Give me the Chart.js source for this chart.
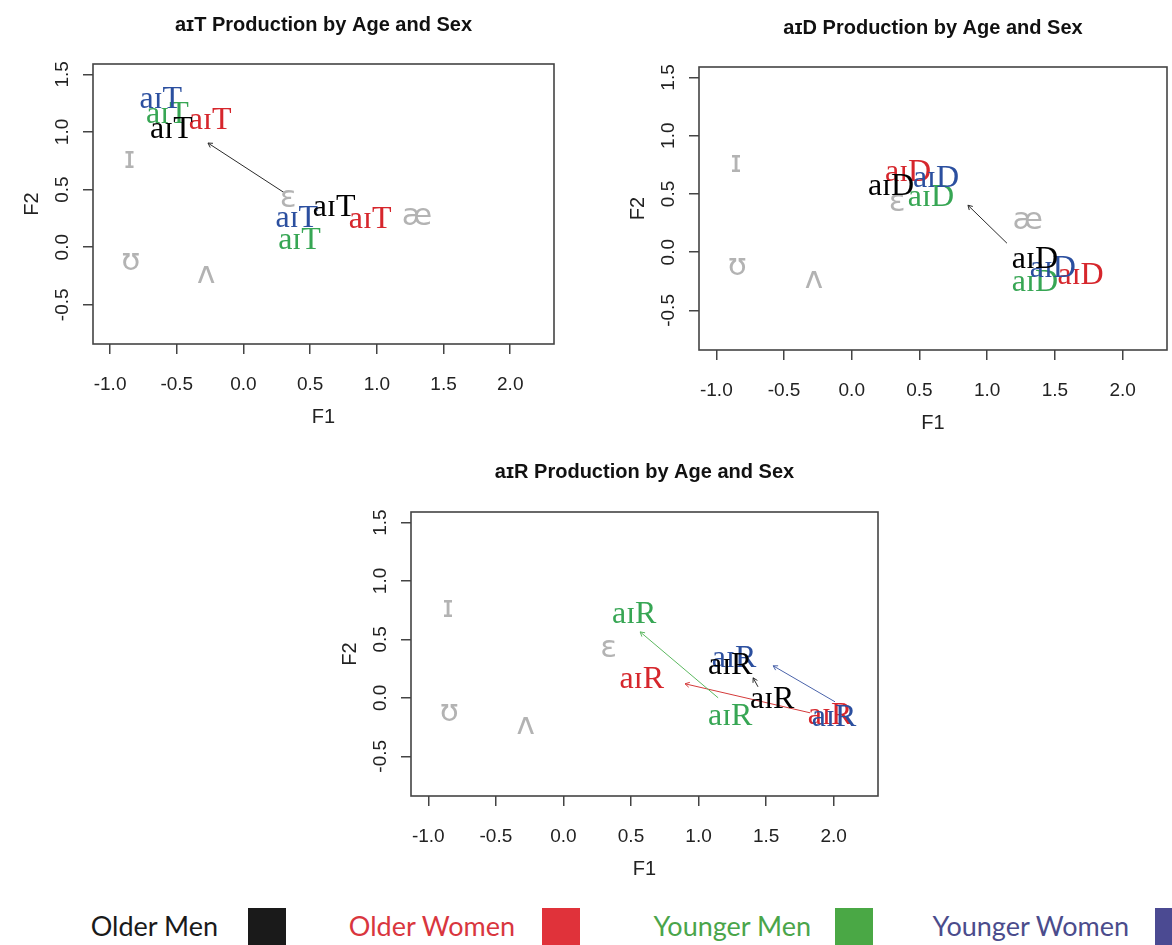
<!DOCTYPE html>
<html>
<head>
<meta charset="utf-8">
<script src="https://cdn.jsdelivr.net/npm/chart.js@4.4.1/dist/chart.umd.min.js"></script>
<style>
html,body{margin:0;padding:0;background:#fff;}
body{width:1172px;height:945px;overflow:hidden;position:relative;}
canvas{position:absolute;}
.lg{position:absolute;top:906px;height:40px;line-height:40px;font-family:Lato,"Open Sans",sans-serif;font-size:27px;white-space:nowrap;text-align:right;width:260px;}
.sq{position:absolute;top:908px;width:38px;height:40px;}
</style>
</head>
<body>
<canvas id="c1" width="600" height="440" style="left:0px;top:0px"></canvas>
<canvas id="c2" width="566" height="440" style="left:606px;top:0px"></canvas>
<canvas id="c3" width="600" height="460" style="left:318px;top:440px"></canvas>
<div id="legend"></div>
<script>
// ---------- shared data ----------
const groupNames = ['Older Men', 'Older Women', 'Younger Men', 'Younger Women'];
const groupColors = ['#000000', '#d6262c', '#37a654', '#2b4f9f'];
const arrowColors = ['#2a2a2a', '#d43a3a', '#5cb860', '#4a63aa'];
const legendTextColors = ['#1a1a1a', '#d9363e', '#4aa54a', '#4b4c8c'];
const legendBoxColors = ['#1a1a1a', '#e0323a', '#4aa845', '#4b4a92'];
const legendTextRight = [218, 515, 811, 1129];
const legendBoxLeft = [248, 542, 835, 1155];

const xTickValues = [-1.0, -0.5, 0.0, 0.5, 1.0, 1.5, 2.0];
const yTickValues = [-0.5, 0.0, 0.5, 1.0, 1.5];
const xRange = [-1.128, 2.328];
const yRange = [-0.84, 1.59];

const vowelSymbols = ['ɪ', 'ʊ', 'ʌ', 'ɛ', 'æ'];
const vowelF1 = [-0.855, -0.845, -0.28, 0.335, 1.30];
const vowelF2 = [0.76, -0.13, -0.24, 0.42, 0.265];

// ---------- aɪT panel ----------
const aiT_group = [0, 0, 1, 1, 2, 2, 3, 3];
const aiT_F1 = [-0.54, 0.68, -0.25, 0.95, -0.57, 0.42, -0.62, 0.40];
const aiT_F2 = [1.02, 0.34, 1.095, 0.24, 1.15, 0.06, 1.28, 0.25];
const aiT_arrowGroup = [0];
const aiT_arrowF1From = [0.31];
const aiT_arrowF2From = [0.47];
const aiT_arrowF1To = [-0.266];
const aiT_arrowF2To = [0.904];

// ---------- aɪD panel ----------
const aiD_group = [0, 0, 1, 1, 2, 2, 3, 3];
const aiD_F1 = [0.29, 1.353, 0.416, 1.69, 0.585, 1.353, 0.622, 1.485];
const aiD_F2 = [0.566, -0.06, 0.686, -0.197, 0.47, -0.257, 0.635, -0.137];
const aiD_arrowGroup = [0];
const aiD_arrowF1From = [1.146];
const aiD_arrowF2From = [0.077];
const aiD_arrowF1To = [0.858];
const aiD_arrowF2To = [0.403];

// ---------- aɪR panel ----------
const aiR_group = [0, 0, 1, 1, 2, 2, 3, 3];
const aiR_F1 = [1.234, 1.545, 0.58, 1.973, 0.524, 1.234, 1.263, 2.003];
const aiR_F2 = [0.28, -0.017, 0.154, -0.154, 0.71, -0.16, 0.333, -0.165];
const aiR_arrowGroup = [2, 1, 0, 3];
const aiR_arrowF1From = [1.145, 1.825, 1.44, 2.01];
const aiR_arrowF2From = [0.0, -0.128, 0.094, -0.034];
const aiR_arrowF1To = [0.568, 0.90, 1.404, 1.552];
const aiR_arrowF2To = [0.564, 0.12, 0.171, 0.274];

// order in which group labels are painted (last on top)
const paintOrder = [1, 2, 3, 0];

const SANS = '"Liberation Sans", Arial, "DejaVu Sans", sans-serif';
const SERIF = '"Liberation Serif", "Times New Roman", "DejaVu Serif", serif';
const VOWELFONT = '"DejaVu Sans", "Liberation Sans", sans-serif';

const panelDecor = {
  id: 'panelDecor',
  afterDatasetsDraw(chart) {
    const ctx = chart.ctx;
    chart.data.datasets.forEach((ds, i) => {
      if (!ds.isArrow) return;
      const meta = chart.getDatasetMeta(i);
      const a = meta.data[0], b = meta.data[1];
      const ang = Math.atan2(b.y - a.y, b.x - a.x);
      const L = 5, w = Math.PI / 6;
      ctx.save();
      ctx.strokeStyle = ds.borderColor;
      ctx.lineWidth = 1;
      ctx.beginPath();
      ctx.moveTo(b.x - L * Math.cos(ang - w), b.y - L * Math.sin(ang - w));
      ctx.lineTo(b.x, b.y);
      ctx.lineTo(b.x - L * Math.cos(ang + w), b.y - L * Math.sin(ang + w));
      ctx.stroke();
      ctx.restore();
    });
    chart.data.datasets.forEach((ds, i) => {
      if (!ds.textLabels) return;
      const meta = chart.getDatasetMeta(i);
      ctx.save();
      ctx.font = ds.textFont;
      ctx.fillStyle = ds.textColor;
      ctx.textAlign = 'center';
      ctx.textBaseline = 'middle';
      meta.data.forEach((el, j) => ctx.fillText(ds.textLabels[j], el.x, el.y));
      ctx.restore();
    });
  },
  afterDraw(chart) {
    const ctx = chart.ctx, ca = chart.chartArea;
    ctx.save();
    ctx.strokeStyle = '#444';
    ctx.lineWidth = 1.6;
    ctx.strokeRect(ca.left, ca.top, ca.right - ca.left, ca.bottom - ca.top);
    const ys = chart.scales.y;
    ctx.font = '19px ' + SANS;
    ctx.fillStyle = '#222';
    ctx.textAlign = 'center';
    ctx.textBaseline = 'middle';
    ys.ticks.forEach(t => {
      const py = ys.getPixelForValue(t.value);
      ctx.save();
      ctx.translate(ca.left - 30, py);
      ctx.rotate(-Math.PI / 2);
      ctx.fillText(Number(t.value).toFixed(1), 0, 0);
      ctx.restore();
    });
    ctx.restore();
  }
};

function makePanel(id, cfg) {
  const datasets = [];
  // gray reference vowels
  datasets.push({
    data: cfg.vowelIdx.map(k => ({x: vowelF1[k], y: vowelF2[k]})),
    pointRadius: 0,
    textLabels: cfg.vowelIdx.map(k => vowelSymbols[k]),
    textFont: '31px ' + VOWELFONT,
    textColor: '#b3b3b3'
  });
  // arrows
  cfg.arrowGroup.forEach((g, k) => {
    datasets.push({
      type: 'scatter',
      showLine: true,
      isArrow: true,
      data: [{x: cfg.a1x[k], y: cfg.a1y[k]}, {x: cfg.a2x[k], y: cfg.a2y[k]}],
      borderColor: cfg.arrowMono ? arrowColors[0] : arrowColors[g],
      borderWidth: 1,
      pointRadius: 0
    });
  });
  // group labels
  paintOrder.forEach(g => {
    const idx = cfg.group.map((v, i) => v === g ? i : -1).filter(i => i >= 0);
    datasets.push({
      label: groupNames[g],
      data: idx.map(i => ({x: cfg.f1[i], y: cfg.f2[i]})),
      pointRadius: 0,
      textLabels: idx.map(() => cfg.word),
      textFont: '32px ' + SERIF,
      textColor: groupColors[g]
    });
  });

  const tickFont = {family: SANS, size: 19};
  new Chart(document.getElementById(id), {
    type: 'scatter',
    data: {datasets},
    plugins: [panelDecor],
    options: {
      responsive: false,
      animation: false,
      devicePixelRatio: 1,
      events: [],
      layout: {padding: {left: 0, right: cfg.padRight, top: 0, bottom: 0}},
      plugins: {
        legend: {display: false},
        tooltip: {enabled: false},
        title: {
          display: true,
          fullSize: false,
          text: cfg.title,
          color: '#111',
          font: {family: SANS, size: 20, weight: 'bold', lineHeight: 1.2},
          padding: cfg.titlePad
        }
      },
      scales: {
        x: {
          type: 'linear',
          min: xRange[0], max: xRange[1],
          afterBuildTicks: a => { a.ticks = xTickValues.map(v => ({value: v})); },
          afterFit: s => { s.height = cfg.xHeight; },
          border: {display: false},
          grid: {drawOnChartArea: false, drawTicks: true, tickLength: 10, color: '#444', lineWidth: 1.5},
          ticks: {font: tickFont, color: '#222', padding: 19, autoSkip: false, maxRotation: 0,
                  callback: v => Number(v).toFixed(1)},
          title: {display: true, text: 'F1', color: '#222', font: {family: SANS, size: 20},
                  padding: {top: 0, bottom: cfg.f1PadBottom}}
        },
        y: {
          type: 'linear',
          min: yRange[0], max: yRange[1],
          afterBuildTicks: a => { a.ticks = yTickValues.map(v => ({value: v})); },
          afterFit: s => { s.width = 93; },
          border: {display: false},
          grid: {drawOnChartArea: false, drawTicks: true, tickLength: 10, color: '#444', lineWidth: 1.5},
          ticks: {display: false, autoSkip: false},
          title: {display: true, text: 'F2', color: '#222', font: {family: SANS, size: 20},
                  padding: {top: 20, bottom: 0}}
        }
      }
    }
  });
}

makePanel('c1', {
  title: 'aɪT Production by Age and Sex', word: 'aɪT',
  group: aiT_group, f1: aiT_F1, f2: aiT_F2,
  arrowGroup: aiT_arrowGroup, a1x: aiT_arrowF1From, a1y: aiT_arrowF2From, a2x: aiT_arrowF1To, a2y: aiT_arrowF2To,
  arrowMono: true, vowelIdx: [0, 1, 2, 3, 4],
  padRight: 46, titlePad: {top: 13, bottom: 27}, xHeight: 96, f1PadBottom: 11
});
makePanel('c2', {
  title: 'aɪD Production by Age and Sex', word: 'aɪD',
  group: aiD_group, f1: aiD_F1, f2: aiD_F2,
  arrowGroup: aiD_arrowGroup, a1x: aiD_arrowF1From, a1y: aiD_arrowF2From, a2x: aiD_arrowF1To, a2y: aiD_arrowF2To,
  arrowMono: true, vowelIdx: [0, 1, 2, 3, 4],
  padRight: 5, titlePad: {top: 16, bottom: 27}, xHeight: 90, f1PadBottom: 5
});
makePanel('c3', {
  title: 'aɪR Production by Age and Sex', word: 'aɪR',
  group: aiR_group, f1: aiR_F1, f2: aiR_F2,
  arrowGroup: aiR_arrowGroup, a1x: aiR_arrowF1From, a1y: aiR_arrowF2From, a2x: aiR_arrowF1To, a2y: aiR_arrowF2To,
  arrowMono: false, vowelIdx: [0, 1, 2, 3],
  padRight: 40, titlePad: {top: 20, bottom: 28}, xHeight: 104, f1PadBottom: 19
});

// legend (HTML)
const legend = document.getElementById('legend');
groupNames.forEach((name, i) => {
  const t = document.createElement('div');
  t.className = 'lg';
  t.style.left = (legendTextRight[i] - 260) + 'px';
  t.style.color = legendTextColors[i];
  t.textContent = name;
  legend.appendChild(t);
  const s = document.createElement('div');
  s.className = 'sq';
  s.style.left = legendBoxLeft[i] + 'px';
  s.style.background = legendBoxColors[i];
  legend.appendChild(s);
});
</script>
</body>
</html>
